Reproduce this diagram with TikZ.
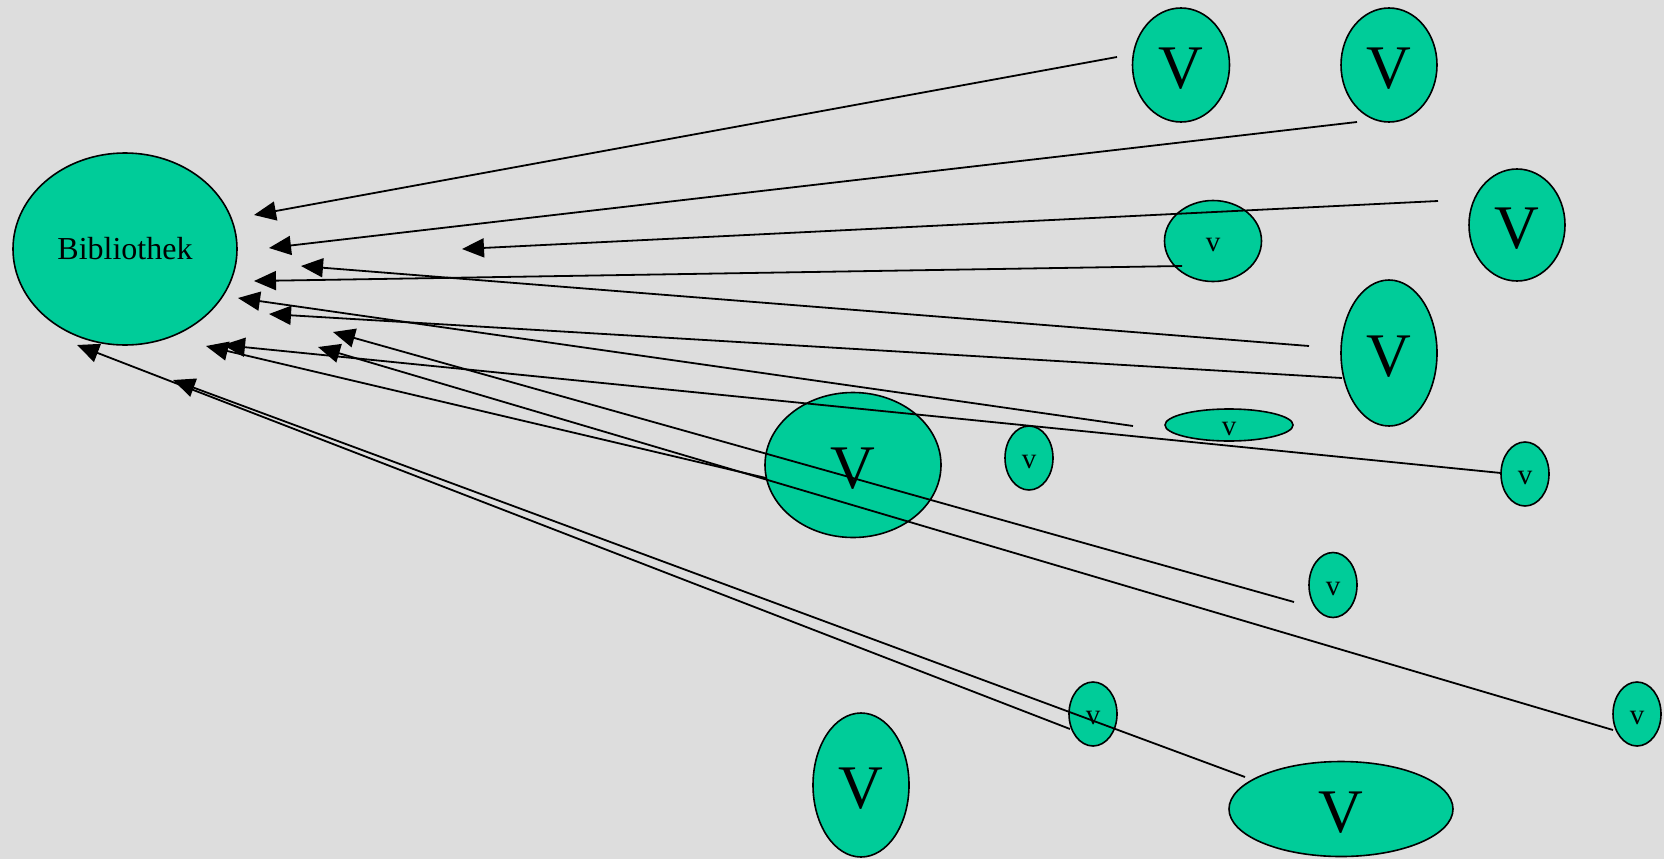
\documentclass[tikz,border=0pt]{standalone}
\usepackage{fontspec}
\setmainfont{Liberation Serif}
\usetikzlibrary{arrows.meta, shapes.geometric}
\definecolor{nodegreen}{RGB}{0,204,153}
\definecolor{bggray}{RGB}{221,221,221}

\begin{document}
\begin{tikzpicture}[
        x=1pt, y=-1pt,
        oval/.style={ellipse, draw=black, line width=1.6pt, fill=nodegreen, inner sep=0pt},
        bigv/.style={oval, font=\fontsize{62}{62}\selectfont, text height=47pt, text depth=0pt},
        smallv/.style={oval, font=\fontsize{29}{29}\selectfont, text height=21pt, text depth=0pt},
        arrow/.style={-{Triangle[length=22pt, width=19pt]}, line width=1.8pt, draw=black}
    ]
        % --- BACKGROUND ---
        \path[fill=bggray] (0,0) rectangle (1664,859);

        % --- LIBRARY ---
        \node[oval, minimum width=224pt, minimum height=192pt, font=\fontsize{32}{32}\selectfont] (bib) at (125,249) {Bibliothek};

        % --- BIG V ---
        \node[bigv, minimum width=97pt, minimum height=114pt] (V1) at (1181,65) {V};
        \node[bigv, minimum width=96pt, minimum height=114pt] (V2) at (1389,65) {V};
        \node[bigv, minimum width=96pt, minimum height=112pt] (V3) at (1517,225) {V};
        \node[bigv, minimum width=96pt, minimum height=146pt] (V4) at (1389,353) {V};
        \node[bigv, minimum width=176pt, minimum height=145pt] (V5) at (853,465) {V};
        \node[bigv, minimum width=96pt, minimum height=144pt] (V6) at (861,785) {V};
        \node[bigv, minimum width=224pt, minimum height=95pt] (V7) at (1341,809) {V};

        % --- SMALL v ---
        \node[smallv, minimum width=97pt, minimum height=81pt] (v1) at (1213,241) {v};
        \node[smallv, minimum width=128pt, minimum height=32pt] (v2) at (1229,425) {v};
        \node[smallv, minimum width=48pt, minimum height=64pt] (v3) at (1029,458) {v};
        \node[smallv, minimum width=48pt, minimum height=64pt] (v4) at (1525,474) {v};
        \node[smallv, minimum width=48pt, minimum height=65pt] (v5) at (1333,585) {v};
        \node[smallv, minimum width=48pt, minimum height=64pt] (v6) at (1093,714) {v};
        \node[smallv, minimum width=48pt, minimum height=64pt] (v7) at (1637,714) {v};

        % --- ARROW ENDS ---
        \coordinate (outV1) at (1117,57);   \coordinate (inV1) at (254,215);
        \coordinate (outV2) at (1357,122);  \coordinate (inV2) at (269,248);
        \coordinate (outV3) at (1438,201);  \coordinate (inV3) at (462,249);
        \coordinate (outv1) at (1182,266);  \coordinate (inv1) at (254,281);
        \coordinate (outV4a) at (1309,346); \coordinate (inV4a) at (301,266);
        \coordinate (outV4b) at (1342,378); \coordinate (inV4b) at (269,314);
        \coordinate (outv2) at (1133,426);  \coordinate (inv2) at (238,298);
        \coordinate (outv4) at (1501,473);  \coordinate (inv4) at (223,345);
        \coordinate (outv5) at (1294,602);  \coordinate (inv5) at (333,332);
        \coordinate (outv7) at (1613,730);  \coordinate (inv7) at (318,347);
        \coordinate (outV5) at (766,478);   \coordinate (inV5) at (206,346);
        \coordinate (outv6) at (1070,729);  \coordinate (inv6) at (77,345);
        \coordinate (outV7) at (1245,777);  \coordinate (inV7) at (173,380);

        % --- CONNECTIONS ---
        \draw[arrow] (outV1) -- (inV1);
        \draw[arrow] (outV2) -- (inV2);
        \draw[arrow] (outV3) -- (inV3);
        \draw[arrow] (outv1) -- (inv1);
        \draw[arrow] (outV4a) -- (inV4a);
        \draw[arrow] (outV4b) -- (inV4b);
        \draw[arrow] (outv2) -- (inv2);
        \draw[arrow] (outv4) -- (inv4);
        \draw[arrow] (outv5) -- (inv5);
        \draw[arrow] (outv7) -- (inv7);
        \draw[arrow] (outV5) -- (inV5);
        \draw[arrow] (outv6) -- (inv6);
        \draw[arrow] (outV7) -- (inV7);

    \end{tikzpicture}
\end{document}
